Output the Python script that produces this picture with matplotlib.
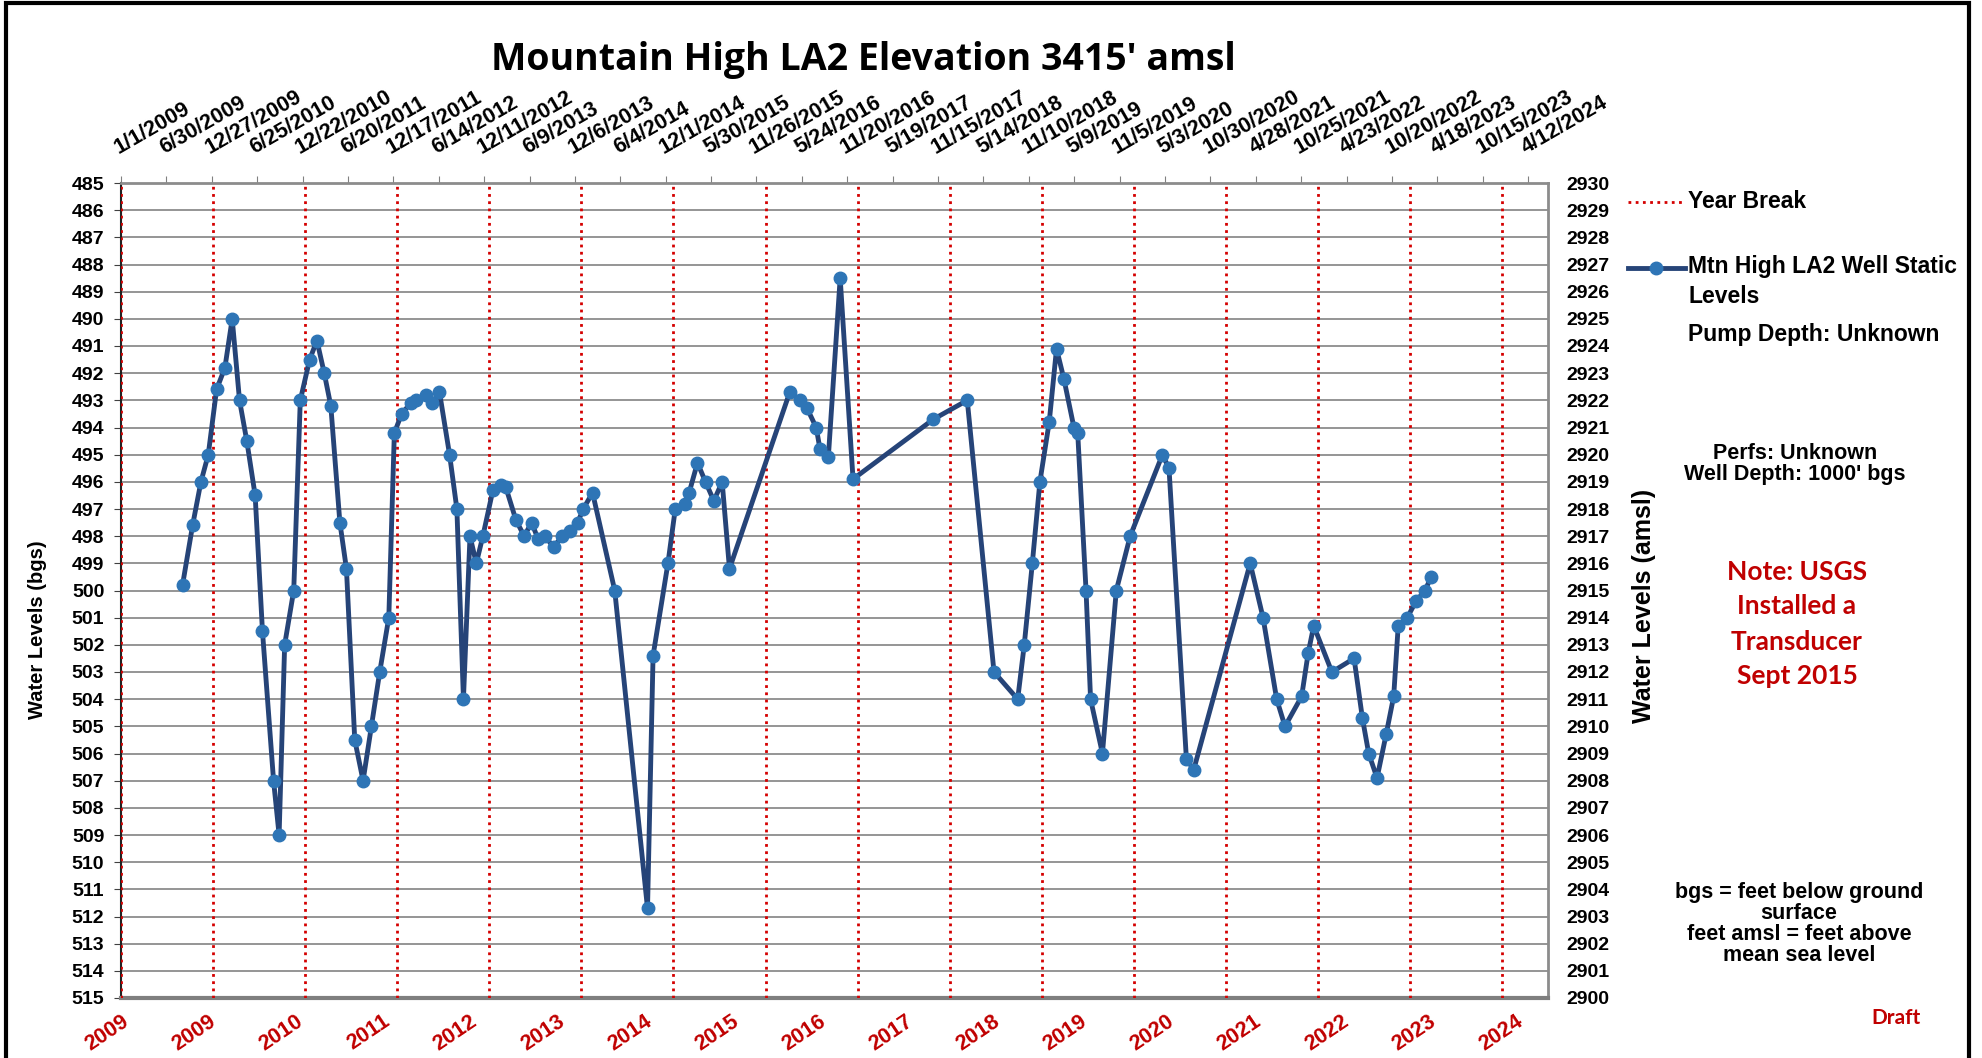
import datetime as dt
import matplotlib
matplotlib.use("Agg")
import matplotlib.pyplot as plt
from matplotlib.lines import Line2D
from matplotlib.patches import Rectangle

plt.rcParams["font.family"] = ["Liberation Sans", "DejaVu Sans"]
plt.rcParams["font.weight"] = "bold"
plt.rcParams["axes.labelweight"] = "bold"

# --- values -------------------------------------------------------------
sample_dates = [
    "2009-09-02", "2009-10-12", "2009-11-14", "2009-12-13", "2010-01-15", "2010-02-17",
    "2010-03-18", "2010-04-16", "2010-05-15", "2010-06-17", "2010-07-16", "2010-08-29",
    "2010-09-20", "2010-10-12", "2010-11-17", "2010-12-13", "2011-01-19", "2011-02-17",
    "2011-03-18", "2011-04-13", "2011-05-19", "2011-06-14", "2011-07-17", "2011-08-19",
    "2011-09-21", "2011-10-24", "2011-11-29", "2011-12-21", "2012-01-19", "2012-02-24",
    "2012-03-17", "2012-04-23", "2012-05-19", "2012-06-17", "2012-07-27", "2012-08-25",
    "2012-09-20", "2012-10-16", "2012-11-10", "2012-12-06", "2013-01-15", "2013-02-17",
    "2013-03-07", "2013-04-16", "2013-05-19", "2013-06-17", "2013-07-13", "2013-08-08",
    "2013-09-13", "2013-10-16", "2013-11-18", "2013-12-17", "2014-01-08", "2014-02-14",
    "2014-05-13", "2014-09-20", "2014-10-12", "2014-12-10", "2015-01-08", "2015-02-14",
    "2015-03-04", "2015-04-06", "2015-05-08", "2015-06-10", "2015-07-13", "2015-08-11",
    "2016-04-06", "2016-05-16", "2016-06-14", "2016-07-20", "2016-08-04", "2016-09-06",
    "2016-10-23", "2016-12-13", "2017-10-27", "2018-03-11", "2018-06-25", "2018-09-27",
    "2018-10-23", "2018-11-24", "2018-12-24", "2019-01-30", "2019-02-28", "2019-03-29",
    "2019-05-08", "2019-05-23", "2019-06-25", "2019-07-13", "2019-08-29", "2019-10-23",
    "2019-12-17", "2020-04-23", "2020-05-19", "2020-07-27", "2020-08-25", "2021-04-06",
    "2021-05-27", "2021-07-20", "2021-08-22", "2021-10-27", "2021-11-22", "2021-12-14",
    "2022-02-24", "2022-05-23", "2022-06-25", "2022-07-20", "2022-08-22", "2022-09-27",
    "2022-10-27", "2022-11-14", "2022-12-20", "2023-01-23", "2023-02-28", "2023-03-25",
]
depth_bgs = [
    499.8, 497.6, 496.0, 495.0, 492.6, 491.8,
    490.0, 493.0, 494.5, 496.5, 501.5, 507.0,
    509.0, 502.0, 500.0, 493.0, 491.5, 490.8,
    492.0, 493.2, 497.5, 499.2, 505.5, 507.0,
    505.0, 503.0, 501.0, 494.2, 493.5, 493.1,
    493.0, 492.8, 493.1, 492.7, 495.0, 497.0,
    504.0, 498.0, 499.0, 498.0, 496.3, 496.1,
    496.2, 497.4, 498.0, 497.5, 498.1, 498.0,
    498.4, 498.0, 497.8, 497.5, 497.0, 496.4,
    500.0, 511.7, 502.4, 499.0, 497.0, 496.8,
    496.4, 495.3, 496.0, 496.7, 496.0, 499.2,
    492.7, 493.0, 493.3, 494.0, 494.8, 495.1,
    488.5, 495.9, 493.7, 493.0, 503.0, 504.0,
    502.0, 499.0, 496.0, 493.8, 491.1, 492.2,
    494.0, 494.2, 500.0, 504.0, 506.0, 500.0,
    498.0, 495.0, 495.5, 506.2, 506.6, 499.0,
    501.0, 504.0, 505.0, 503.9, 502.3, 501.3,
    503.0, 502.5, 504.7, 506.0, 506.9, 505.3,
    503.9, 501.3, 501.0, 500.4, 500.0, 499.5,
]

top_tick_labels = [
    "1/1/2009", "6/30/2009", "12/27/2009", "6/25/2010", "12/22/2010", "6/20/2011",
    "12/17/2011", "6/14/2012", "12/11/2012", "6/9/2013", "12/6/2013", "6/4/2014",
    "12/1/2014", "5/30/2015", "11/26/2015", "5/24/2016", "11/20/2016", "5/19/2017",
    "11/15/2017", "5/14/2018", "11/10/2018", "5/9/2019", "11/5/2019", "5/3/2020",
    "10/30/2020", "4/28/2021", "10/25/2021", "4/23/2022", "10/20/2022", "4/18/2023",
    "10/15/2023", "4/12/2024",
]
year_breaks = [f"{y}-01-01" for y in range(2009, 2025)]
year_labels = ["2009", "2009", "2010", "2011", "2012", "2013", "2014", "2015", "2016",
               "2017", "2018", "2019", "2020", "2021", "2022", "2023", "2024"]
bgs_ticks = list(range(485, 516))
amsl_ticks = list(range(2900, 2931))
x_start, x_end = "2009-01-01", "2024-06-30"

W, H = 1982, 1058
def fx(px): return px / W
def fy(py): return 1 - py / H

fig = plt.figure(figsize=(W / 100, H / 100), dpi=100)
ax = fig.add_axes([fx(121), fy(998), fx(1548) - fx(121), fy(183) - fy(998)])
ax2 = ax.twinx()
ax3 = ax.twiny()

dates = [dt.datetime.strptime(d, "%Y-%m-%d") for d in sample_dates]
ax.plot(dates, depth_bgs, color="#264478", lw=3.5, marker="o", ms=9,
        mfc="#2E75B6", mec="#2E75B6", zorder=5)
for d in year_breaks:
    ax.axvline(dt.datetime.strptime(d, "%Y-%m-%d"), color="#D40000", lw=2,
               ls=(0, (1, 1.6)), zorder=3)

ax.set_xlim(dt.datetime.strptime(x_start, "%Y-%m-%d"), dt.datetime.strptime(x_end, "%Y-%m-%d"))
ax.set_ylim(bgs_ticks[-1], bgs_ticks[0])
ax.set_yticks(bgs_ticks)
ax.tick_params(axis="y", direction="out", length=5, color="#404040", pad=7, labelsize=14)
ax.grid(axis="y", color="#8C8C8C", lw=1.3, zorder=1)

# top date axis
ax.xaxis.tick_top()
ax.set_xticks([dt.datetime.strptime(s, "%m/%d/%Y") for s in top_tick_labels])
ax.set_xticklabels(top_tick_labels, rotation=30, ha="left", va="bottom",
                   rotation_mode="anchor", fontsize=15.5)
ax.tick_params(axis="x", direction="out", length=5, color="#808080", pad=13)
ax.spines["left"].set_color("#202020")
ax.spines["left"].set_linewidth(1.5)
ax.spines["top"].set_color("#8C8C8C")
ax.spines["top"].set_linewidth(2)
ax.spines["right"].set_color("#8C8C8C")
ax.spines["right"].set_linewidth(2)
ax.spines["bottom"].set_color("#7F7F7F")
ax.spines["bottom"].set_linewidth(3)
ax.set_ylabel("Water Levels (bgs)", fontsize=14.5)
ax.yaxis.set_label_coords(fx(47), fy(630), transform=fig.transFigure)

# right axis: elevation amsl
ax2.set_ylim(amsl_ticks[0], amsl_ticks[-1])
ax2.set_yticks(amsl_ticks)
ax2.tick_params(axis="y", length=0, pad=13.5, labelsize=14)
for s in ax2.spines.values():
    s.set_visible(False)
ax2.set_ylabel("Water Levels (amsl)", fontsize=18)
ax2.yaxis.set_label_coords(fx(1632), fy(606), transform=fig.transFigure)

# bottom year-break labels
ax3.set_xlim(0, 16.38)
ax3.xaxis.tick_bottom()
ax3.set_xticks(range(len(year_labels)))
ax3.set_xticklabels(year_labels, rotation=34, ha="right", va="top",
                    rotation_mode="anchor", fontsize=15.5, color="#C00000")
ax3.tick_params(axis="x", length=0, pad=9)
for s in ax3.spines.values():
    s.set_visible(False)

# title
fig.text(fx(863), fy(60), "Mountain High LA2 Elevation 3415' amsl", ha="center", va="center",
         fontsize=27, family=["Open Sans", "DejaVu Sans"], weight="bold")

# legend-style block on the right
fig.add_artist(Line2D([fx(1628), fx(1682)], [fy(202), fy(202)], color="#D40000", lw=2,
                      ls=(0, (1, 1.6)), transform=fig.transFigure))
fig.text(fx(1688), fy(202), "Year Break", ha="left", va="center", fontsize=16.5)
fig.add_artist(Line2D([fx(1628), fx(1685)], [fy(268), fy(268)], color="#264478", lw=3.5,
                      transform=fig.transFigure))
fig.add_artist(Line2D([fx(1656)], [fy(268)], marker="o", ms=9, mfc="#2E75B6", mec="#2E75B6",
                      transform=fig.transFigure))
fig.text(fx(1688), fy(255), "Mtn High LA2 Well Static\nLevels", ha="left", va="top",
         fontsize=16.5, linespacing=1.4)
fig.text(fx(1688), fy(335), "Pump Depth: Unknown", ha="left", va="center", fontsize=16.5)

fig.text(fx(1795), fy(464), "Perfs: Unknown\nWell Depth: 1000' bgs", ha="center", va="center",
         fontsize=15.5, linespacing=1.0)
fig.text(fx(1797), fy(624), "Note: USGS\nInstalled a\nTransducer\nSept 2015", ha="center",
         va="center", fontsize=19, color="#C00000", family=["Lato", "DejaVu Sans"],
         weight="bold", linespacing=1.55)
fig.text(fx(1799), fy(924), "bgs = feet below ground\nsurface\nfeet amsl = feet above\nmean sea level",
         ha="center", va="center", fontsize=15.5, linespacing=1.0)
fig.text(fx(1896), fy(1018), "Draft", ha="center", va="center", fontsize=15, color="#C00000",
         family=["Lato", "DejaVu Sans"], weight="bold")

# outer chart frame
fig.add_artist(Rectangle((fx(6), -0.02), fx(1969) - fx(6), fy(3) + 0.02, fill=False,
                         ec="black", lw=3, transform=fig.transFigure))

fig.savefig("out.png", dpi=100)
